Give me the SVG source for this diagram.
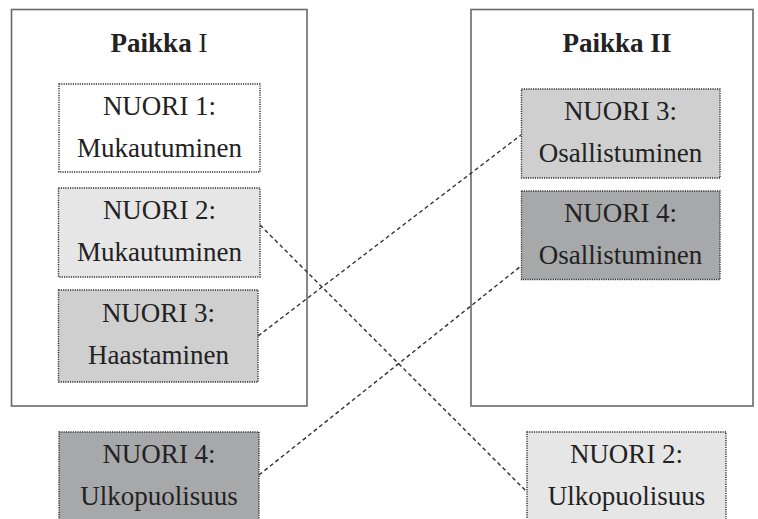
<svg xmlns="http://www.w3.org/2000/svg" width="758" height="519" viewBox="0 0 758 519">
  <style>
    .place { fill: #ffffff; stroke: #6a6a6a; stroke-width: 1.6; }
    .node { stroke: #2e2e2e; stroke-width: 1.4; stroke-dasharray: 1.2 1.1; }
    .lbl { font-family: "Liberation Serif", "DejaVu Serif", serif; font-size: 27px; fill: #222; text-anchor: middle; }
    .title { font-family: "Liberation Serif", "DejaVu Serif", serif; font-size: 27px; fill: #222; text-anchor: middle; }
    .b { font-weight: bold; }
    .link { fill: none; stroke: #2e2e2e; stroke-width: 1.4; stroke-dasharray: 4 3; }
    .w { fill: #ffffff; }
    .l1 { fill: #e6e6e7; }
    .l2 { fill: #cfcfd0; }
    .l3 { fill: #a7a8aa; }
  </style>
  <rect width="758" height="519" fill="#ffffff"/>

  <!-- places -->
  <g id="paikka-1">
    <rect class="place" x="11.5" y="9.5" width="295.5" height="396.5"/>
    <text class="title" x="159" y="52"><tspan class="b">Paikka</tspan> I</text>
  </g>
  <g id="paikka-2">
    <rect class="place" x="471" y="9.5" width="282" height="396.5"/>
    <text class="title b" x="617" y="52">Paikka II</text>
  </g>

  <!-- connectors -->
  <g id="connectors">
    <line class="link" x1="260" y1="225" x2="527" y2="492"/>
    <line class="link" x1="258" y1="336" x2="521" y2="135"/>
    <line class="link" x1="259" y1="475" x2="521" y2="266"/>
  </g>

  <!-- nodes -->
  <g id="p1-nuori1">
    <rect class="node w" x="59" y="84" width="201" height="88"/>
    <text class="lbl" x="159.5" y="115">NUORI 1:</text>
    <text class="lbl" x="159.5" y="157">Mukautuminen</text>
  </g>
  <g id="p1-nuori2">
    <rect class="node l1" x="58.5" y="188" width="201.5" height="89"/>
    <text class="lbl" x="159.5" y="219">NUORI 2:</text>
    <text class="lbl" x="159.5" y="261">Mukautuminen</text>
  </g>
  <g id="p1-nuori3">
    <rect class="node l2" x="58.5" y="290" width="199.5" height="92"/>
    <text class="lbl" x="158.5" y="322">NUORI 3:</text>
    <text class="lbl" x="158.5" y="364">Haastaminen</text>
  </g>
  <g id="p2-nuori3">
    <rect class="node l2" x="521.5" y="89" width="198.5" height="89"/>
    <text class="lbl" x="620.5" y="120">NUORI 3:</text>
    <text class="lbl" x="620.5" y="162">Osallistuminen</text>
  </g>
  <g id="p2-nuori4">
    <rect class="node l3" x="521.5" y="191" width="198.5" height="88.5"/>
    <text class="lbl" x="620.5" y="222">NUORI 4:</text>
    <text class="lbl" x="620.5" y="264">Osallistuminen</text>
  </g>
  <g id="out-nuori4">
    <rect class="node l3" x="59" y="432" width="200" height="90"/>
    <text class="lbl" x="159" y="463">NUORI 4:</text>
    <text class="lbl" x="159" y="505">Ulkopuolisuus</text>
  </g>
  <g id="out-nuori2">
    <rect class="node l1" x="527" y="432" width="199" height="90"/>
    <text class="lbl" x="626.5" y="463">NUORI 2:</text>
    <text class="lbl" x="626.5" y="505">Ulkopuolisuus</text>
  </g>
</svg>
